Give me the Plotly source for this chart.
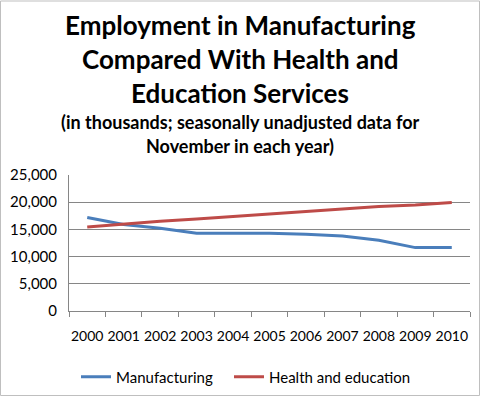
import plotly.graph_objects as go

years = ["2000", "2001", "2002", "2003", "2004", "2005", "2006", "2007", "2008", "2009", "2010"]
manufacturing = [17200, 15900, 15200, 14300, 14300, 14300, 14100, 13800, 13000, 11650, 11650]
health_education = [15450, 16000, 16500, 16900, 17350, 17850, 18300, 18750, 19200, 19500, 19950]
y_ticks = [0, 5000, 10000, 15000, 20000, 25000]
y_tick_labels = ["0", "5,000", "10,000", "15,000", "20,000", "25,000"]
title_lines = ["Employment in Manufacturing", "Compared With Health and", "Education Services"]
sub_lines = ["(in thousands; seasonally unadjusted data for", "November in each year)"]

FONT = "Lato, 'Open Sans', sans-serif"
L, R, T, B = 69, 10, 175, 85
W, H = 480, 396
pw, ph = W - L - R, H - T - B

def py(pix):  # pixel y from top -> paper y
    return (H - B - pix) / ph

def px(pix):
    return (pix - L) / pw

fig = go.Figure()
fig.add_trace(go.Scatter(x=years, y=manufacturing, mode="lines", name="Manufacturing",
                         line=dict(color="#4A7EBB", width=3), legend="legend"))
fig.add_trace(go.Scatter(x=years, y=health_education, mode="lines", name="Health and education",
                         line=dict(color="#BE4B48", width=3), legend="legend2"))

leg_common = dict(orientation="h", xanchor="left", y=py(377), yanchor="middle",
                  font=dict(size=15, family=FONT), itemwidth=30, bgcolor="rgba(0,0,0,0)")

fig.update_layout(
    width=W, height=H,
    margin=dict(l=L, r=R, t=T, b=B, autoexpand=False),
    paper_bgcolor="white", plot_bgcolor="white",
    font=dict(family=FONT, color="black", size=14),
    showlegend=True,
    legend=dict(x=px(76), **leg_common),
    legend2=dict(x=px(229), **leg_common),
    xaxis=dict(type="category", showline=True, linecolor="#868686", linewidth=1,
               ticks="outside", tickson="boundaries", ticklen=5, tickcolor="#868686",
               showgrid=False, tickfont=dict(size=14), tickangle=0, automargin=False,
               range=[-0.5, 10.5], ticklabelstandoff=12),
    yaxis=dict(range=[0, 25000], tickvals=y_ticks, ticktext=y_tick_labels,
               showline=True, linecolor="#868686", linewidth=1,
               gridcolor="#868686", gridwidth=1, ticks="", zeroline=False,
               tickfont=dict(size=15), automargin=False, ticklabelstandoff=8),
)

anns = []
for t, yy in zip(title_lines, [25, 59, 93]):
    anns.append(dict(text="<b>" + t + "</b>", x=px(240), xref="paper", y=py(yy), yref="paper",
                     xanchor="center", yanchor="middle", showarrow=False,
                     font=dict(size=26, family=FONT, color="black")))
for t, yy in zip(sub_lines, [122, 146]):
    anns.append(dict(text="<b>" + t + "</b>", x=px(240), xref="paper", y=py(yy), yref="paper",
                     xanchor="center", yanchor="middle", showarrow=False,
                     font=dict(size=18, family=FONT, color="black")))
fig.layout.annotations = anns

fig.add_shape(type="rect", xref="paper", yref="paper",
              x0=px(0.5), x1=px(W - 0.5), y0=py(H - 0.5), y1=py(1),
              line=dict(color="#BFBFBF", width=1))

fig.write_html("out.html", config={"displayModeBar": False},
               post_script="document.body.style.margin='0';document.body.style.overflow='hidden';")
